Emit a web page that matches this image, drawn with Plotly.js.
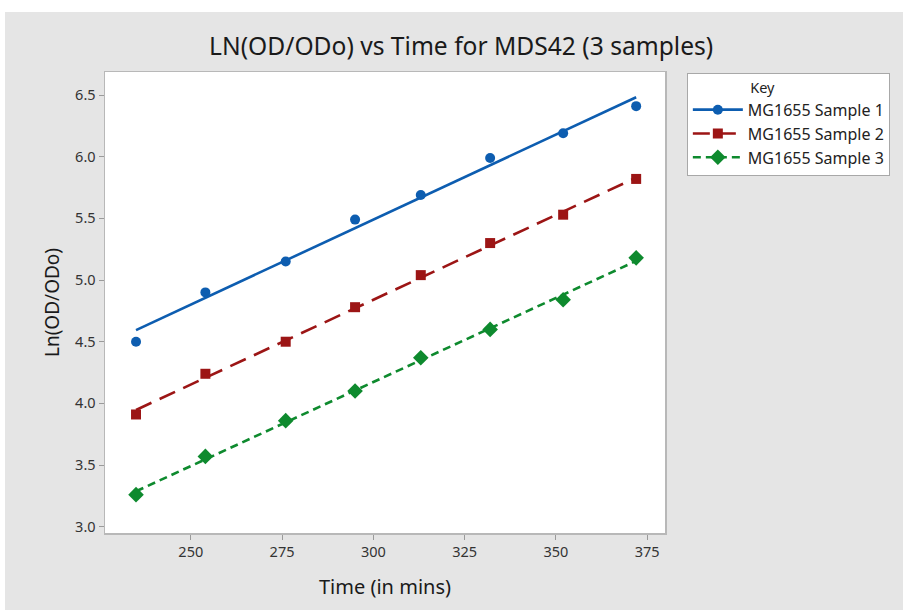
<!DOCTYPE html>
<html>
<head>
<meta charset="utf-8">
<script src="https://cdn.plot.ly/plotly-3.0.1.min.js"></script>
<style>
  html, body { margin:0; padding:0; background:#ffffff; width:903px; height:610px; overflow:hidden; }
  #chart { position:absolute; left:5px; top:12px; width:898px; height:598px; }
</style>
</head>
<body>
<div id="chart"></div>
<script>
// ---- Data ----
var timeMins = [235, 254, 276, 295, 313, 332, 352, 372];
var sample1 = [4.50, 4.90, 5.15, 5.49, 5.69, 5.99, 6.19, 6.41];
var sample2 = [3.91, 4.24, 4.50, 4.78, 5.04, 5.30, 5.53, 5.82];
var sample3 = [3.26, 3.57, 3.86, 4.10, 4.37, 4.60, 4.84, 5.18];
var seriesNames = ["MG1655 Sample 1", "MG1655 Sample 2", "MG1655 Sample 3"];
var xTickVals = [250, 275, 300, 325, 350, 375];
var yTickVals = [3.0, 3.5, 4.0, 4.5, 5.0, 5.5, 6.0, 6.5];

// least-squares fit line through each sample, drawn across the data span
function fitEnds(x, y) {
  var n = x.length, mx = 0, my = 0;
  for (var i = 0; i < n; i++) { mx += x[i]; my += y[i]; }
  mx /= n; my /= n;
  var sxy = 0, sxx = 0;
  for (var j = 0; j < n; j++) { sxy += (x[j]-mx)*(y[j]-my); sxx += (x[j]-mx)*(x[j]-mx); }
  var b = sxy / sxx, a = my - b*mx;
  var x0 = Math.min.apply(null, x), x1 = Math.max.apply(null, x);
  return { x: [x0, x1], y: [a + b*x0, a + b*x1] };
}

var samples = [sample1, sample2, sample3];
var colors = ["#0d5db0", "#9c1515", "#0e8a2e"];
var symbols = ["circle", "square", "diamond"];
var msizes = [10, 10, 12];
var dashes = ["solid", "17px,9px", "8px,5px"];

var traces = [];
samples.forEach(function (s, k) {
  var f = fitEnds(timeMins, s);
  traces.push({
    x: f.x, y: f.y, type: "scatter", mode: "lines",
    line: { color: colors[k], width: 2.6, dash: dashes[k] },
    showlegend: false, hoverinfo: "skip"
  });
  traces.push({
    x: timeMins, y: s, type: "scatter", mode: "markers",
    marker: { color: colors[k], symbol: symbols[k], size: msizes[k] },
    showlegend: false, name: seriesNames[k]
  });
});
// legend entries
samples.forEach(function (s, k) {
  traces.push({
    x: [null], y: [null], type: "scatter", mode: "lines+markers",
    name: seriesNames[k],
    line: { color: colors[k], width: 2.6, dash: dashes[k] },
    marker: { color: colors[k], symbol: symbols[k], size: msizes[k] }
  });
});

var fontFam = "'Noto Sans', 'Open Sans', sans-serif";
var nb = "\u00a0";
var layout = {
  width: 898, height: 598,
  paper_bgcolor: "#e5e5e5",
  plot_bgcolor: "#ffffff",
  margin: { l: 100, r: 238, t: 60, b: 77 },
  font: { family: fontFam, color: "#222222" },
  title: {
    text: "LN(OD/ODo) vs Time for MDS42 (3 samples)",
    font: { family: fontFam, size: 24.6, color: "#1a1a1a" },
    xref: "container", x: 0.508, xanchor: "center",
    yref: "container", y: 0.943, yanchor: "middle"
  },
  xaxis: {
    range: [226.5, 379.9],
    tickvals: xTickVals,
    ticks: "outside", ticklen: 5, tickcolor: "#9a9a9a", tickwidth: 1,
    showgrid: false, zeroline: false,
    showline: true, linecolor: "#b8b8b8", linewidth: 1.5, mirror: true,
    tickfont: { size: 14.5, color: "#333333" },
    title: { text: "Time (in mins)", font: { size: 20, color: "#1a1a1a" }, standoff: 20 }
  },
  yaxis: {
    range: [2.949, 6.687],
    tickvals: yTickVals,
    tickformat: ".1f",
    ticks: "outside", ticklen: 5, tickcolor: "#9a9a9a", tickwidth: 1,
    showgrid: false, zeroline: false,
    showline: true, linecolor: "#b8b8b8", linewidth: 1.5, mirror: true,
    tickfont: { size: 14.5, color: "#333333" },
    title: { text: "Ln(OD/ODo)", font: { size: 19, color: "#1a1a1a" }, standoff: 10 }
  },
  legend: {
    x: 1.039, xanchor: "left", y: 0.998, yanchor: "top",
    bgcolor: "#ffffff", bordercolor: "#a8a8a8", borderwidth: 1,
    font: { size: 16, color: "#222222" },
    title: { text: nb.repeat(16) + "Key", font: { size: 14.5, color: "#222222" }, side: "top" },
    tracegroupgap: 0,
    itemwidth: 50
  },
  showlegend: true
};

Plotly.newPlot("chart", traces, layout, { displayModeBar: false, staticPlot: true });
</script>
</body>
</html>
